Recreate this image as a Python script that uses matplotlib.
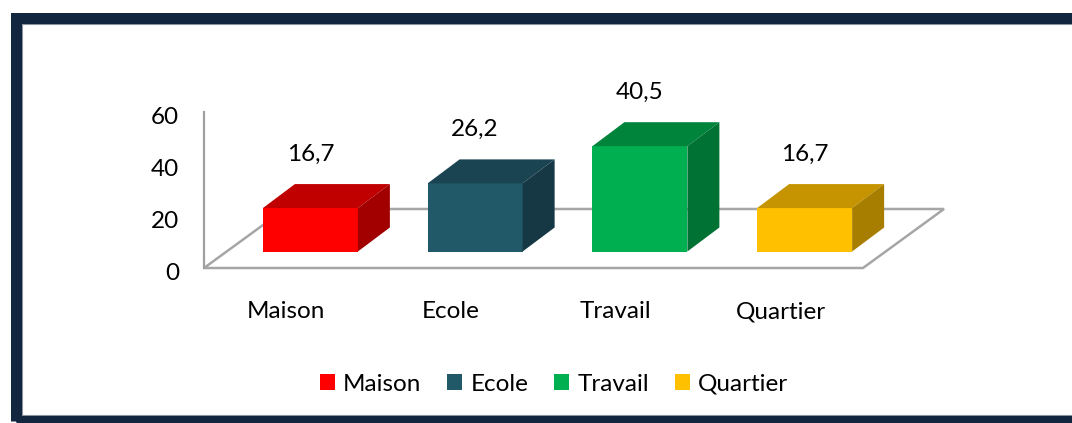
import matplotlib
matplotlib.use("Agg")
import matplotlib.pyplot as plt
from matplotlib.patches import Polygon, Rectangle, Patch
from matplotlib.transforms import ScaledTranslation, blended_transform_factory

plt.rcParams['font.family'] = ['Lato', 'DejaVu Sans']

categories = ["Maison", "Ecole", "Travail", "Quartier"]
values = [16.7, 26.2, 40.5, 16.7]
y_ticks = [0, 20, 40, 60]
front_colors = ["#FF0000", "#215968", "#00B050", "#FFC000"]
top_colors = ["#C00000", "#1B4452", "#00843C", "#C59400"]
side_colors = ["#A20000", "#163845", "#007233", "#A87E00"]

W, H = 1072, 423
FS = 17.5
fig = plt.figure(figsize=(W / 100, H / 100), dpi=100)

# Navy frame
fig.patches.append(Rectangle((16 / W, (H - 420.5) / H), (1090 - 16) / W, (420.5 - 18.5) / H,
                             transform=fig.transFigure, fill=False, edgecolor="#12263F",
                             linewidth=11 * 72 / 100, zorder=10))
fig.patches.append(Rectangle((22 / W, (H - 415) / H), (1090 - 22) / W, (415 - 24) / H,
                             transform=fig.transFigure, fill=False, edgecolor="#8C96A3",
                             linewidth=0.8, zorder=9))

ax_l, ax_r, ax_b, ax_t = 204, 863, 268, 112
ax = fig.add_axes([ax_l / W, (H - ax_b) / H, (ax_r - ax_l) / W, (ax_b - ax_t) / H])
n = len(categories)
ax.set_xlim(-0.5, n - 0.5)
ax.set_ylim(0, 60)
ax.patch.set_visible(False)
for s in ["top", "right", "bottom"]:
    ax.spines[s].set_visible(False)
ax.spines["left"].set_color("#A0A0A0")
ax.spines["left"].set_linewidth(1.6)

# floor parallelogram (axes fraction)
ax_w_px = ax_r - ax_l
ax_h_px = ax_b - ax_t
fdx, fdy = 81 / ax_w_px, 59 / ax_h_px
floor = Polygon([(0, 0), (1, 0), (1 + fdx, fdy), (fdx, fdy)], closed=True,
                transform=ax.transAxes, facecolor="white", edgecolor="#A6A6A6",
                linewidth=1.8, clip_on=False, zorder=1)
ax.add_patch(floor)

# bars with pseudo-3D depth
px_per_x = ax_w_px / n
px_per_y = ax_h_px / 60
shift = ScaledTranslation(24 / 100, 16.5 / 100, fig.dpi_scale_trans)
tr = ax.transData + shift
w = 95 / px_per_x
ddx = 32 / px_per_x
ddy = 24 / px_per_y
xs = list(range(n))
ax.bar(xs, values, width=w, color=front_colors, transform=tr, zorder=3, clip_on=False)
for x, v, tc, sc in zip(xs, values, top_colors, side_colors):
    l, r = x - w / 2, x + w / 2
    ax.add_patch(Polygon([(l, v), (r, v), (r + ddx, v + ddy), (l + ddx, v + ddy)],
                         closed=True, facecolor=tc, edgecolor="none", transform=tr,
                         zorder=3, clip_on=False))
    ax.add_patch(Polygon([(r, 0), (r, v), (r + ddx, v + ddy), (r + ddx, ddy)],
                         closed=True, facecolor=sc, edgecolor="none", transform=tr,
                         zorder=3, clip_on=False))
    ax.annotate(f"{v:.1f}".replace(".", ","), xy=(x, v), xytext=(24, 16.5 + 54),
                textcoords="offset pixels", ha="center", va="center", fontsize=FS,
                color="#000000", zorder=4)

# y axis labels (placed on the value scale, nudged slightly down like the original)
ax.set_yticks(y_ticks)
ax.set_yticklabels([])
ax.tick_params(axis="y", length=0)
ytr = blended_transform_factory(ax.transAxes, ax.transData) + \
    ScaledTranslation(-25 / 100, -3 / 100, fig.dpi_scale_trans)
for t in y_ticks:
    ax.text(0, t, str(t), transform=ytr, ha="right", va="center_baseline",
            fontsize=FS, color="#000000", clip_on=False)

ax.set_xticks(xs)
ax.set_xticklabels(categories, fontsize=FS)
ax.tick_params(axis="x", length=0, pad=24)

handles = [Patch(facecolor=c, edgecolor="none") for c in front_colors]
fig.legend(handles, categories, loc="center", bbox_to_anchor=(554 / W, (H - 384) / H),
           ncol=4, frameon=False, fontsize=FS, handlelength=0.62, handleheight=0.62,
           handletextpad=0.35, columnspacing=1.05)

fig.savefig("out.png", dpi=100)
